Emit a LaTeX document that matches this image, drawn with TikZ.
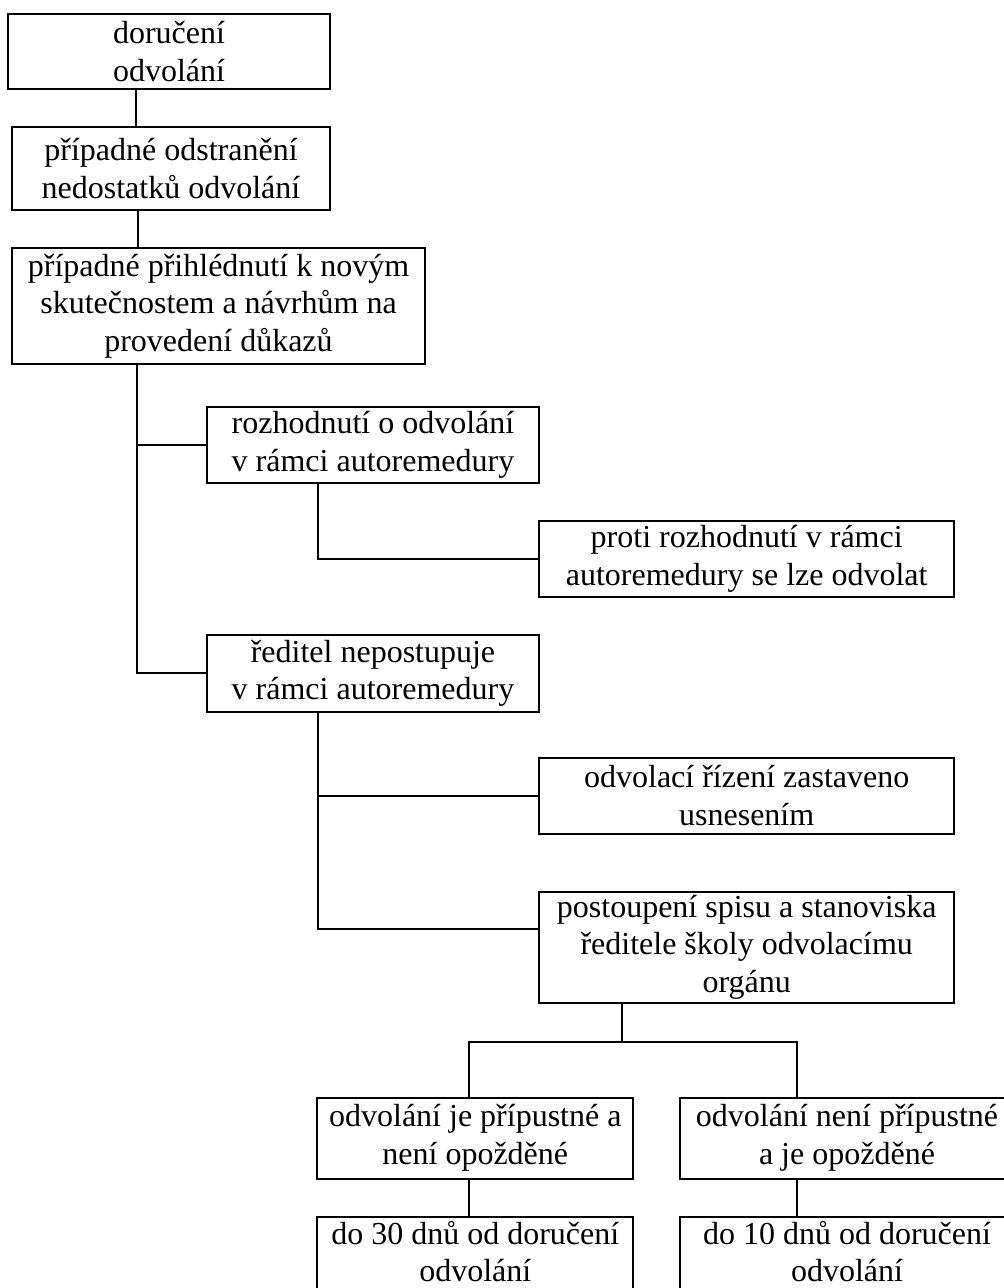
\documentclass[tikz,border=0pt]{standalone}
\usepackage{fontspec}
\setmainfont{Liberation Serif}
\begin{document}
\begin{tikzpicture}[x=1pt,y=-1pt,
  box/.style={draw=black,line width=2pt,inner sep=0pt,align=center,
    font=\fontsize{32}{37.5}\selectfont,
    execute at begin node={\rule{0pt}{36pt}}},
  cutbox/.style={box,execute at begin node={},
    execute at end node={\rule[-7pt]{0pt}{1pt}}},
  conn/.style={draw=black,line width=2pt}]
\useasboundingbox (0,0) rectangle (1004,1288);
\clip (0,0) rectangle (1004,1288);
\fill[white] (0,0) rectangle (1004,1288);

\node[box,minimum width=322pt,minimum height=75pt] (b1) at (169,51.5) {doručení\\odvolání};
\node[box,minimum width=318pt,minimum height=83pt] (b2) at (171,168.5) {případné odstranění\\nedostatků odvolání};
\node[box,minimum width=413pt,minimum height=116pt] (b3) at (218.5,306) {případné přihlédnutí k novým\\skutečnostem a návrhům na\\provedení důkazů};
\node[box,minimum width=332pt,minimum height=76pt] (b4) at (373,444.7) {rozhodnutí o odvolání\\v rámci autoremedury};
\node[box,minimum width=415pt,minimum height=76pt] (b5) at (746.7,558.8) {proti rozhodnutí v rámci\\autoremedury se lze odvolat};
\node[box,minimum width=332pt,minimum height=77pt] (b6) at (373,673.3) {ředitel nepostupuje\\v rámci autoremedury};
\node[box,minimum width=415pt,minimum height=76pt] (b7) at (746.7,795.5) {odvolací řízení zastaveno\\usnesením};
\node[box,minimum width=415pt,minimum height=111pt] (b8) at (746.7,947.2) {postoupení spisu a stanoviska\\ředitele školy odvolacímu\\orgánu};
\node[box,minimum width=316pt,minimum height=81pt] (b9) at (475.3,1138) {odvolání je přípustné a\\není opožděné};
\node[box,minimum width=334pt,minimum height=81pt] (b10) at (847,1138) {odvolání není přípustné\\a je opožděné};
\node[cutbox,minimum width=316pt,minimum height=76pt] (b11) at (475.3,1254.7) {do 30 dnů od doručení\\odvolání};
\node[cutbox,minimum width=334pt,minimum height=76pt] (b12) at (847,1254.7) {do 10 dnů od doručení\\odvolání};

\coordinate (s1) at (136,0);
\coordinate (s2) at (138,0);
\coordinate (s3) at (137.3,0);
\coordinate (s4) at (318,0);
\coordinate (s5) at (622,0);
\coordinate (s6) at (469,0);
\coordinate (s7) at (796.7,0);
\coordinate (j8) at (0,1041.7);

\draw[conn] (b1.south -| s1) -- (b2.north -| s1);
\draw[conn] (b2.south -| s2) -- (b3.north -| s2);
\draw[conn] (b3.south -| s3) |- (b6.west);
\draw[conn] (b4.west) -- (b4.west -| s3);
\draw[conn] (b4.south -| s4) |- (b5.west);
\draw[conn] (b6.south -| s4) |- ([yshift=17.9pt]b8.west);
\draw[conn] (b7.west) -- (b7.west -| s4);
\draw[conn] (b8.south -| s5) -- (j8 -| s5);
\draw[conn] (b9.north -| s6) |- (j8 -| s7) -- (b10.north -| s7);
\draw[conn] (b9.south -| s6) -- (b11.north -| s6);
\draw[conn] (b10.south -| s7) -- (b12.north -| s7);
\end{tikzpicture}
\end{document}
